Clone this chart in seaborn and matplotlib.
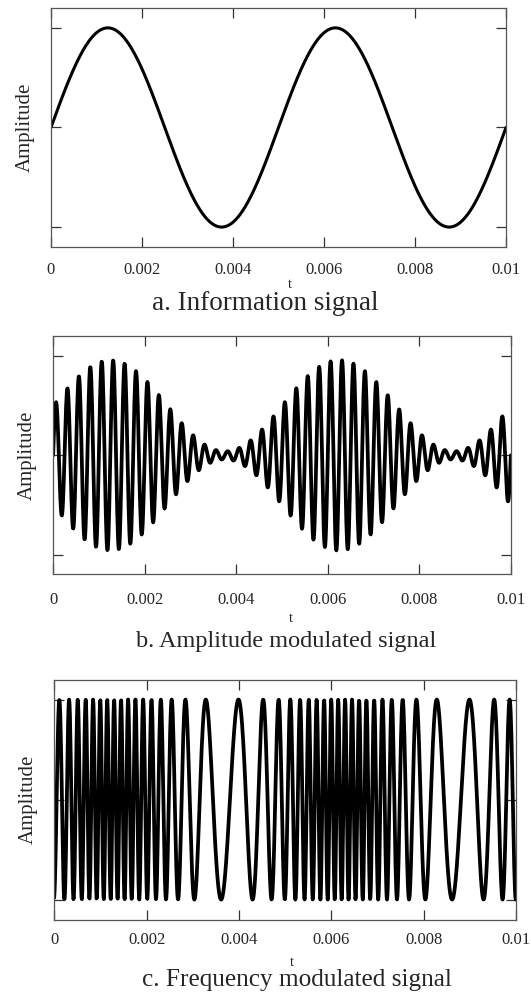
import numpy as np
import pandas as pd
import matplotlib
matplotlib.use("Agg")
import matplotlib.pyplot as plt
import seaborn as sns

# Signal parameters
t_start, t_stop, n_samples = 0.0, 0.01, 1200
f_message = 200.0        # Hz, information tone
f_carrier = 4000.0       # Hz, carrier
am_offset = 0.5          # AM carrier level
am_index = 0.92          # AM modulation index
fm_deviation = 2700.0    # Hz, peak frequency deviation
fm_phase0 = 0.53         # FM carrier start phase, in cycles

x_ticks = [0, 0.002, 0.004, 0.006, 0.008, 0.01]
x_tick_labels = ["0", "0.002", "0.004", "0.006", "0.008", "0.01"]
y_ticks = [-1, 0, 1]
captions = ["a. Information signal", "b. Amplitude modulated signal",
            "c. Frequency modulated signal"]

t = np.linspace(t_start, t_stop, n_samples)
message = np.sin(2 * np.pi * f_message * t)
am = am_offset * (1 + am_index * message) * np.sin(2 * np.pi * f_carrier * t)
beta = fm_deviation / f_message
fm_cycles = (fm_phase0 + f_carrier * t
             + beta / (2 * np.pi) * (1 - np.cos(2 * np.pi * f_message * t)))
fm = np.cos(2 * np.pi * fm_cycles)

df = pd.DataFrame({"t": t, "message": message, "am": am, "fm": fm})

sns.set_style("ticks")
plt.rcParams["font.family"] = ["Liberation Serif", "DejaVu Serif"]

fig = plt.figure(figsize=(5.31, 9.92), dpi=100)

# per-panel layout: axes rect [left, bottom, width, height] in figure fractions
rects = [
    [0.096, 0.751, 0.857, 0.241],
    [0.100, 0.421, 0.862, 0.240],
    [0.102, 0.073, 0.870, 0.242],
]
series = ["message", "am", "fm"]
widths = [2.2, 2.7, 2.7]
tick_pads = [11.0, 13.0, 9.0]
t_label_y = [1 - 285 / 992, 1 - 619 / 992, 1 - 962 / 992]
t_label_x = [0.546, 0.548, 0.550]
caption_y = [1 - 304 / 992, 1 - 642 / 992, 1 - 980 / 992]
caption_x = [0.499, 0.538, 0.559]
caption_size = [19.5, 17.5, 18.2]

for i, (rect, col) in enumerate(zip(rects, series)):
    ax = fig.add_axes(rect)
    sns.lineplot(data=df, x="t", y=col, ax=ax, color="black",
                 linewidth=widths[i], estimator=None, sort=False)
    ax.set_xlim(0, 0.01)
    ax.set_ylim(-1.2, 1.2)
    ax.set_xticks(x_ticks)
    ax.set_xticklabels(x_tick_labels)
    ax.set_yticks(y_ticks)
    ax.tick_params(axis="both", direction="in", length=7, width=0.9,
                   color="#333333", top=True, right=True, labelleft=False,
                   labelsize=12)
    ax.tick_params(axis="x", pad=tick_pads[i])
    for s in ax.spines.values():
        s.set_color("#555555")
        s.set_linewidth(0.9)
    ax.set_xlabel("")
    ax.set_ylabel("Amplitude", fontsize=15, labelpad=12)
    fig.text(t_label_x[i], t_label_y[i], "t", fontsize=10,
             ha="center", va="center")
    fig.text(caption_x[i], caption_y[i], captions[i],
             fontsize=caption_size[i], ha="center", va="center")

fig.savefig("out.png", dpi=100)
